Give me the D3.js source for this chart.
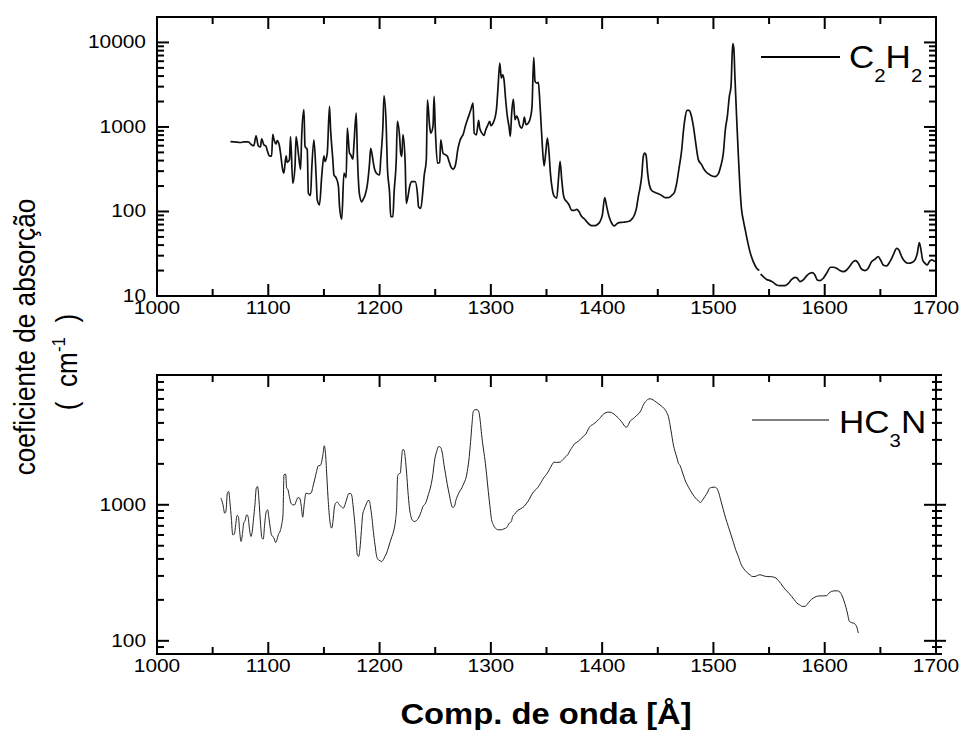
<!DOCTYPE html>
<html>
<head>
<meta charset="utf-8">
<script src="https://cdn.jsdelivr.net/npm/d3@7"></script>
<style>
body{margin:0;background:#fff;}
svg{display:block;font-family:"Liberation Sans",Arial,sans-serif;}
</style>
</head>
<body>
<svg id="chart" width="962" height="742"></svg>
<script>
// wavelength (Å) and absorption coefficient (cm-1)
// null = small break in the C2H2 trace
var c2h2Wave = [1066,1072,1075,1078,1082,1085,1087,1089,1091,1093,1094,1096,1098,1099,1101,1103,1104,1105,1107,1108,
	1110,1111,1113,1114,1116,1117,1119,1120,1122,1124,1125,1127,1129,1130,1132,1133,1135,1136,1138,1139,
	1141,1143,1144,1146,1148,1150,1151,1153,1155,1156,1158,1159,1161,1163,1164,1166,1168,1170,1171,1173,
	1174,1176,1177,1179,1180,1182,1184,1185,1187,1189,1191,1192,1194,1195,1197,1200,1201,1203,1204,1206,
	1207,1209,1210,1212,1213,1215,1216,1218,1219,1220,1221,1223,1224,1226,1227,1229,1232,1234,1235,1237,
	1239,1240,1242,1243,1245,1246,1248,1249,1250,1252,1254,1255,1257,1259,1261,1262,1264,1266,1268,1269,
	1270,1272,1274,1275,1277,1280,1282,1284,1285,1287,1289,1290,1292,1294,1295,1297,1299,1300,1302,1304,
	1305,1306.5,1308,1309.4,1310.6,1311.8,1313.3,1314.8,1316.3,1317.5,1318.7,1320.2,1321.7,1323.2,1324.7,1326.2,1327.7,1329.2,1330.1,1331.6,
	1333.7,1335.8,1337,1338.5,1339.7,1341.2,1342.7,1343.9,1345.1,1346.3,1347.8,1349.3,1350.8,1352.3,1353.5,1355.3,1357.1,1359.2,1360.7,1362.2,
	1363.7,1365.2,1366.7,1368.1,1370.2,1372.6,1375,1377.1,1379.2,1381.6,1384,1386.1,1388.2,1390.6,1393.6,1396,1398.1,1400.2,1402.3,1404.1,
	1406.2,1408.6,1410.7,1413.1,1415.2,1419.1,1423.6,1426.6,1429,1431,1432.5,1434,1435.5,1437,1438.2,1439.4,1440.9,1442.4,1444.5,1447.5,
	1450.5,1453.5,1456.5,1459.5,1462.5,1464.9,1467,1469.1,1471.5,1473,1474.5,1476.3,1478.1,1479.9,1482,1484.1,1486.5,1489.5,1490.9,1493.9,
	1496.9,1501.4,1504.4,1506.5,1508.9,1510.7,1512.5,1514.3,1515.8,1516.9,1517.5,1518.4,1519.3,1520.8,1522.3,1523.8,1525.3,1526.8,1528.6,1530.4,
	1532.8,1535.8,1538.8,1541.2,1541.8,1542.4,1544.8,1547.8,1550.8,1553.8,1556.8,1559.8,1564.3,1567.3,1570.3,1573.3,1575.4,1577.8,1580.7,1583.7,
	1586.7,1589.1,1591.2,1593.3,1595.7,1598.7,1601.7,1605.3,1607.7,1610.7,1613.7,1616.7,1619.7,1622.7,1625.7,1627.8,1630.2,1633.2,1636.2,1639.1,
	1642.1,1645.1,1648.1,1650.2,1652.6,1655.6,1658.6,1661.6,1664.6,1666.7,1669.1,1672.1,1675.1,1678.1,1681.1,1683.2,1685,1686.5,1688,1690.1,
	1692.2,1694,1696.1,1699.1];
var c2h2Abs = [670,660,655,665,665,615,600,785,600,580,725,615,590,530,455,450,820,720,630,690,
	600,490,310,285,455,380,410,770,215,340,770,490,315,770,1600,590,540,165,155,310,
	705,260,137,120,260,455,390,490,1750,930,410,270,250,200,115,81,285,252,970,490,
	470,415,630,1460,490,157,130,137,157,207,373,560,410,340,285,270,410,1015,2340,1015,
	340,164,87,87,164,410,1165,770,490,448,810,380,125,164,197,226,226,164,114,109,
	180,259,410,2100,1015,846,1015,2300,1015,373,380,705,490,470,448,408,340,317,347,408,
	513,674,772,808,1015,1334,1600,1919,846,808,1195,970,846,795,887,1033,1164,1033,1112,1334,
	1600,3020,5710,3793,4150,3625,2100,1334,1015,772,1460,2138,1217,1358,1217,1015,970,1112,1309,1062,
	1112,1334,1750,6668,3460,3310,3370,2100,1112,588,347,490,739,490,284,180,150,144,237,391,
	237,157,137,131,120,103,103,106,100,87,82,76,71,68,68,70.6,76,91,146,114,
	87,72.6,67.5,71.3,74,74.6,76,81,91,112,150,189,259,448,490,469,284,207,177,168,
	162,155,146,146,155,168,216,326,537,887,1276,1570,1570,1395,1015,644,408,357,326,289,
	271,259,279,340,490,927,1334,2300,3020,7500,9680,8220,3970,1334,490,197,104.5,79.5,60.5,46.1,
	33.5,25.5,21.3,20,null,18.2,16.9,15.7,15.2,14.5,13.5,13.25,13.25,14.1,15.7,16.6,16.2,14.8,15.5,17.3,
	18.6,18.9,17.7,15.5,15.2,16.2,18.6,21.9,21.9,21.3,20,19.4,20.3,22.7,25.5,26.2,24.4,20.7,20,21.3,
	25.5,27.2,29.2,26.7,23.3,22.7,25.5,30.6,36.7,35.1,29.2,25.5,24.4,24.8,26.7,32,42.9,35.1,26.7,24.4,
	23.3,25.5,26.7,25.5];

var hc3nWave = [1057.5,1059.3,1060.8,1062,1063.2,1064.4,1065.6,1066.8,1068,1069.5,1070.7,1071.9,1073.1,1074.3,1075.5,1076.7,1077.9,1079.1,1080.6,1081.8,
	1083,1084.4,1085.6,1086.8,1088,1089.2,1090.4,1091.6,1093.1,1094.3,1095.5,1096.7,1098.2,1099.4,1100.6,1101.8,1103,1104.2,1105.4,1106.6,
	1107.8,1109,1110.8,1112,1113.2,1114.1,1115.6,1116.5,1117.7,1118.9,1120.4,1121.9,1123.7,1125.2,1126.7,1128.2,1129.7,1130.9,1132.4,1133.9,
	1136,1138.4,1140.5,1142,1143.4,1144.9,1146.7,1147.9,1149.1,1150.3,1151.5,1152.7,1153.9,1155.4,1156.9,1158.1,1159.3,1160.5,1162,1163.5,
	1165.3,1167.4,1168.9,1170.7,1172.2,1174,1175.2,1176.4,1177.6,1178.8,1180,1181.2,1182.4,1183.6,1184.8,1186,1187.2,1188.4,1189.6,1190.8,
	1192,1193.2,1194.4,1195.9,1197.4,1198.9,1200.4,1201.9,1203.3,1204.8,1206.3,1207.8,1209.6,1211.1,1212.9,1214.4,1215.3,1216.2,1217.4,1218.6,
	1219.8,1220.7,1221.9,1223.1,1224.3,1225.5,1226.7,1228.2,1229.7,1231.2,1233.3,1234.8,1236.9,1239,1241.4,1243.8,1245.6,1247.4,1249.8,1251.3,
	1253.1,1254.9,1256.4,1257.9,1259.4,1260.9,1262.7,1264.2,1265.7,1267.2,1268.7,1270.5,1272.3,1274.1,1275.8,1277.6,1278.8,1280.6,1281.8,1283,
	1284.2,1285.7,1287.8,1289.3,1290.5,1291.7,1293.2,1294.7,1296.2,1297.7,1299.2,1300.4,1302.2,1304,1306.7,1309.4,1311.8,1314.2,1316.6,1318.4,
	1319.6,1321.4,1323.8,1326.8,1329.8,1332.2,1334.6,1336.6,1338.7,1341.1,1343.5,1345.6,1347.7,1350.1,1352.5,1354.9,1356.7,1359.1,1362.1,1364.5,
	1366.6,1369,1371.1,1373.5,1375.9,1378.6,1380.7,1383.1,1385.5,1387.6,1389.1,1392.1,1395.1,1396.5,1398.6,1400.4,1402.5,1404.6,1407,1409.4,
	1411.5,1413.6,1416,1418.4,1420.5,1422,1423.5,1425,1427.4,1429.2,1431,1433.1,1434.9,1436.4,1437.9,1440,1441.5,1443,1444.5,1446.9,
	1449.9,1452.9,1455.9,1458,1459.5,1461,1462.5,1464,1465.5,1467.3,1468.5,1470,1471.4,1472.9,1474.4,1476.5,1478.9,1481.3,1484,1486.4,
	1488.5,1490.3,1492.4,1494.8,1496.6,1498.4,1500.8,1502.9,1504.4,1506.5,1508.9,1511,1513.4,1515.8,1517.9,1520,1522.4,1524.8,1526.9,1529.8,
	1532.8,1534.9,1537.3,1539.4,1541.8,1544.8,1547.8,1552.3,1556.2,1558.3,1560.7,1562.8,1565.8,1568.2,1570.3,1572.7,1575.1,1577.5,1579.9,1582.3,
	1584.4,1586.8,1589.7,1592.7,1595.7,1598.7,1601.7,1603.8,1606.2,1609.2,1611.6,1613.7,1615.2,1617,1619.1,1620.6,1622.1,1624.2,1625.7,1627.2,
	1628.7,1630.2];
var hc3nAbs = [1119,1000,868,903,1218,1253,1029,797,602,608,713,835,820,637,537,602,733,763,844,820,
	674,585,637,797,1000,1327,1364,1088,713,569,560,713,893,918,797,674,595,585,560,528,
	553,602,644,713,844,1662,1680,1327,1290,1151,1029,1000,1000,1070,1130,1119,972,811,1029,1218,
	1205,1218,1403,1571,1758,1935,1946,2059,2332,2716,2332,1571,1058,754,674,754,945,1029,1047,1011,
	972,945,1000,1119,1205,1211,1151,945,754,569,429,417,480,637,844,918,972,1029,1076,1070,
	945,797,637,508,417,394,388,383,394,417,441,480,537,585,654,776,945,1616,1690,1709,
	2204,2537,2537,2204,1709,1253,972,820,767,754,767,797,868,972,1029,1185,1327,1571,2204,2467,
	2684,2640,2398,1968,1662,1403,1185,1029,955,972,1088,1185,1268,1341,1443,1571,1758,2266,2923,3873,
	4853,5000,5000,4798,4101,3272,2613,2143,1662,1253,972,797,713,674,655,655,666,681,733,754,
	820,854,903,935,972,1029,1101,1185,1253,1312,1387,1486,1589,1680,1807,1968,2059,2047,2059,2143,
	2229,2332,2497,2684,2840,2923,3056,3180,3327,3600,3764,3917,4101,4220,4389,4590,4718,4798,4798,4718,
	4590,4413,4220,3984,3764,3722,3873,4101,4267,4389,4539,4698,4943,5286,5592,5848,5984,6014,5984,5821,
	5592,5346,5082,4775,4466,3873,3272,2761,2467,2204,2024,1946,1807,1662,1527,1403,1290,1197,1119,1070,
	1040,1088,1151,1239,1327,1341,1348,1327,1253,1088,918,797,693,602,531,467,417,366,342,320,
	306,297,297,302,306,301,297,296,289,278,263,248,233,222,212,200,189,184,179,179,
	186,197,206,212,214,214,215,224,231,233,233,228,218,200,176,157,139,136,135,133,
	127,114];

var xTicks = [1000,1100,1200,1300,1400,1500,1600,1700];
var c2h2YTicks = [10,100,1000,10000];
var hc3nYTicks = [100,1000];
var legendNames = [["C","2","H","2"],["HC","3","N"]];
var xTitle = "Comp. de onda [Å]";
var yTitle = "coeficiente de absorção";

var svg = d3.select("#chart");
var stretch = 1.13; // the original glyphs are a bit wide
var plotLeft = 157, plotRight = 936;
var majorLen = 12, minorLen = 7;

var x = d3.scaleLinear().domain([1000,1700]).range([plotLeft, plotRight]);

function addText(g, px, py, str, size, anchor, weight){
	return g.append("text")
		.attr("transform", "translate("+px+","+py+") scale("+stretch+",1)")
		.attr("text-anchor", anchor)
		.style("font-size", size+"px")
		.style("font-weight", weight || "normal")
		.text(str);
}

function tickLine(g, x1, y1, x2, y2){
	g.append("line")
		.attr("x1", x1).attr("y1", y1).attr("x2", x2).attr("y2", y2)
		.attr("stroke", "#000").attr("stroke-width", 2);
}

function drawPanel(p){
	var y = d3.scaleLog().domain(p.yDomain).range([p.bottom, p.top]);
	var g = svg.append("g");

	// x ticks, bottom and top edges, pointing inward
	var xMinor = x.ticks(14).filter(function(d){ return xTicks.indexOf(d) < 0; });
	xTicks.concat(xMinor).forEach(function(d){
		var len = xTicks.indexOf(d) >= 0 ? majorLen : minorLen;
		tickLine(g, x(d), p.bottom, x(d), p.bottom - len);
		tickLine(g, x(d), p.top, x(d), p.top + len);
	});
	xTicks.forEach(function(d){
		addText(g, x(d), p.bottom + 17.5, d, 18.5, "middle");
	});

	// log y ticks
	y.ticks().forEach(function(d){
		var isMajor = Math.abs(Math.log10(d) - Math.round(Math.log10(d))) < 1e-9;
		var len = isMajor ? majorLen : minorLen;
		tickLine(g, plotLeft, y(d), plotLeft + len, y(d));
		if(p.rightOut){
			tickLine(g, plotRight - (isMajor ? len : 4), y(d), plotRight + (isMajor ? 10 : 6), y(d));
		}
		else{
			tickLine(g, plotRight - len, y(d), plotRight, y(d));
		}
	});
	p.yLabels.forEach(function(d){
		addText(g, 146, y(d) + 6, d, 18.5, "end");
	});

	// frame
	g.append("rect")
		.attr("x", plotLeft).attr("y", p.top)
		.attr("width", plotRight - plotLeft).attr("height", p.bottom - p.top)
		.attr("fill", "none").attr("stroke", "#000").attr("stroke-width", 2);

	// data line
	var pts = p.wave.map(function(w, i){ return [w, p.abs[i]]; });
	var line = d3.line()
		.defined(function(d){ return d[1] != null; })
		.x(function(d){ return x(d[0]); })
		.y(function(d){ return y(d[1]); })
		.curve(d3.curveMonotoneX);
	g.append("path")
		.datum(pts)
		.attr("d", line)
		.attr("fill", "none")
		.attr("stroke", p.color)
		.attr("stroke-width", p.width)
		.attr("stroke-linejoin", "round");

	// legend
	g.append("line")
		.attr("x1", p.legend.x1).attr("x2", p.legend.x2)
		.attr("y1", p.legend.y).attr("y2", p.legend.y)
		.attr("stroke", "#000").attr("stroke-width", p.legend.w);
	var t = g.append("text")
		.attr("transform", "translate("+p.legend.tx+","+p.legend.ty+") scale("+stretch+",1)")
		.style("font-size", "31px");
	p.name.forEach(function(s, i){
		var sub = /^[0-9]$/.test(s);
		t.append("tspan")
			.attr("dy", sub ? 14 : (i > 0 ? -14 : 0))
			.style("font-size", sub ? "18px" : "31px")
			.text(s);
	});
}

drawPanel({
	top: 17, bottom: 296, yDomain: [10, 20000], yLabels: c2h2YTicks,
	wave: c2h2Wave, abs: c2h2Abs, name: legendNames[0],
	color: "#111", width: 1.7, rightOut: false,
	legend: {x1: 761, x2: 840, y: 57, w: 2, tx: 849, ty: 68}
});
drawPanel({
	top: 375, bottom: 654, yDomain: [80, 9000], yLabels: hc3nYTicks,
	wave: hc3nWave, abs: hc3nAbs, name: legendNames[1],
	color: "#222", width: 1, rightOut: true,
	legend: {x1: 752, x2: 829, y: 420, w: 1, tx: 839, ty: 433}
});

// axis titles
addText(svg, 546, 724, xTitle, 29, "middle", "bold");

svg.append("text")
	.attr("transform", "translate(35,337) scale("+stretch+",1) rotate(-90)")
	.attr("text-anchor", "middle")
	.style("font-size", "26.2px")
	.text(yTitle);
var unit = svg.append("text")
	.attr("transform", "translate(77,362) scale("+stretch+",1) rotate(-90)")
	.attr("text-anchor", "middle")
	.style("font-size", "26.2px")
	.attr("xml:space", "preserve");
unit.append("tspan").text("(  cm");
unit.append("tspan").attr("dy", -11).style("font-size", "17px").text("-1");
unit.append("tspan").attr("dy", 11).text("  )");
</script>
</body>
</html>
